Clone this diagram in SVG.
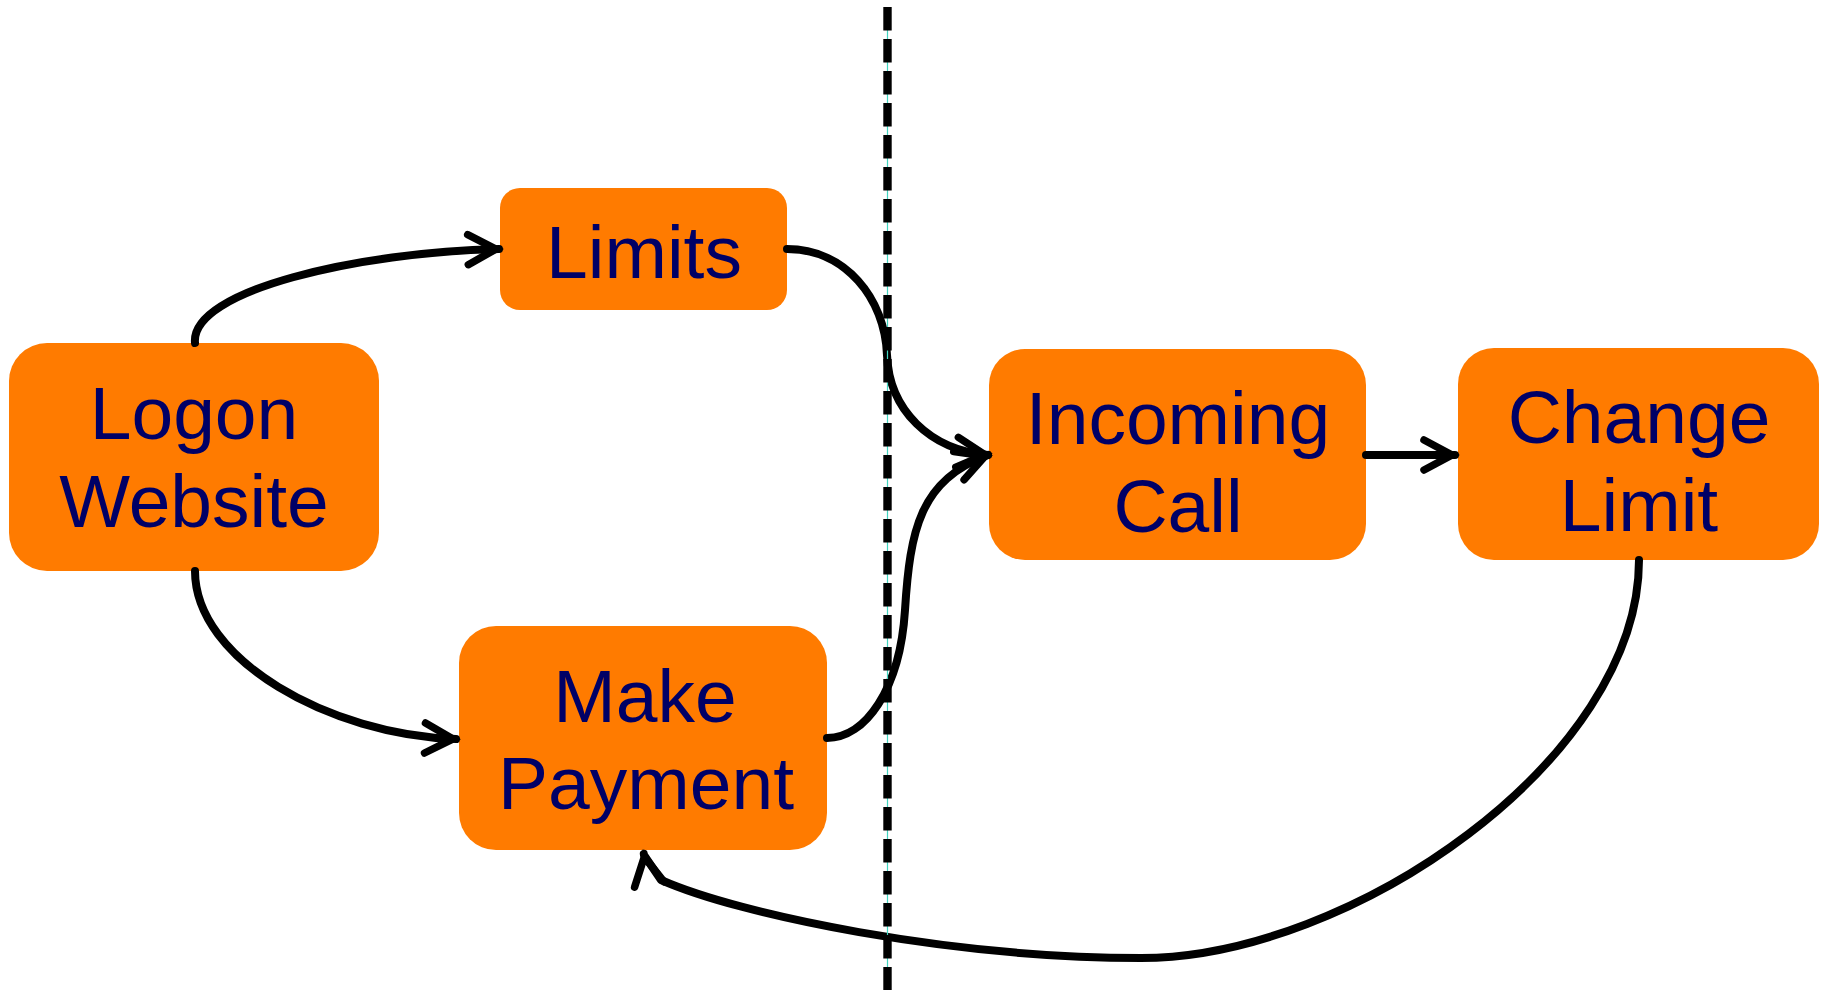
<svg xmlns="http://www.w3.org/2000/svg" width="1825" height="990" viewBox="0 0 1825 990">
  <style>
    .node { fill: #FF7B00; }
    .label { font-family: "Liberation Sans", Arial, sans-serif; font-size: 75px; fill: #000066; text-anchor: middle; }
    .edge { fill: none; stroke: #000; stroke-width: 8; stroke-linecap: round; stroke-linejoin: round; marker-end: url(#chevron); }
    .divider-dash { stroke: #000; stroke-width: 8.4; stroke-dasharray: 23.5 8.5; }
    .divider-core { stroke: #3FD4BF; stroke-width: 1.2; }
  </style>
  <defs>
    <marker id="chevron" markerUnits="userSpaceOnUse" markerWidth="50" markerHeight="50" viewBox="-45 -25 50 50" refX="0" refY="0" orient="auto" overflow="visible">
      <path d="M-31,-15 L-3,0 L-31,15" fill="none" stroke="#000" stroke-width="7.5" stroke-linecap="round" stroke-linejoin="miter"/>
    </marker>
  </defs>

  <rect width="1825" height="990" fill="#fff"/>

  <!-- nodes -->
  <g id="logon-website">
    <rect class="node" x="9" y="343" width="370" height="228" rx="38"/>
    <text class="label" x="194" y="439">Logon</text>
    <text class="label" x="194" y="527">Website</text>
  </g>
  <g id="limits">
    <rect class="node" x="500" y="188" width="287" height="122" rx="20"/>
    <text class="label" x="644" y="278">Limits</text>
  </g>
  <g id="make-payment">
    <rect class="node" x="459" y="626" width="368" height="224" rx="37"/>
    <text class="label" x="645" y="722">Make</text>
    <text class="label" x="646" y="809">Payment</text>
  </g>
  <g id="incoming-call">
    <rect class="node" x="989" y="349" width="377" height="211" rx="36"/>
    <text class="label" x="1178" y="444">Incoming</text>
    <text class="label" x="1178" y="532">Call</text>
  </g>
  <g id="change-limit">
    <rect class="node" x="1458" y="348" width="361" height="212" rx="36"/>
    <text class="label" x="1639" y="443">Change</text>
    <text class="label" x="1639" y="531">Limit</text>
  </g>

  <!-- connectors -->
  <g id="connectors">
    <path class="edge" d="M195,343 C190,290 360,252 499,249"/>
    <path class="edge" d="M195,571 C195,660 330,735 456,739"/>
    <path class="edge" d="M787,249 C845,249 885,298 887,355 C889,410 930,450 988,455"/>
    <path class="edge" d="M827,738 C865,738 900,690 905,610 C910,530 920,480 988,455"/>
    <path class="edge" d="M1366,455 L1455,455"/>
    <path class="edge" d="M1639,560 C1639,760 1350,958 1141,958 C950,958 740,915 661,880 L644,855 l-0.2,-1.1"/>
  </g>

  <!-- dashed divider -->
  <g id="divider">
    <line class="divider-core" x1="887.5" y1="7" x2="887.5" y2="990"/>
    <line class="divider-dash" x1="887.5" y1="7" x2="887.5" y2="990"/>
  </g>
</svg>
